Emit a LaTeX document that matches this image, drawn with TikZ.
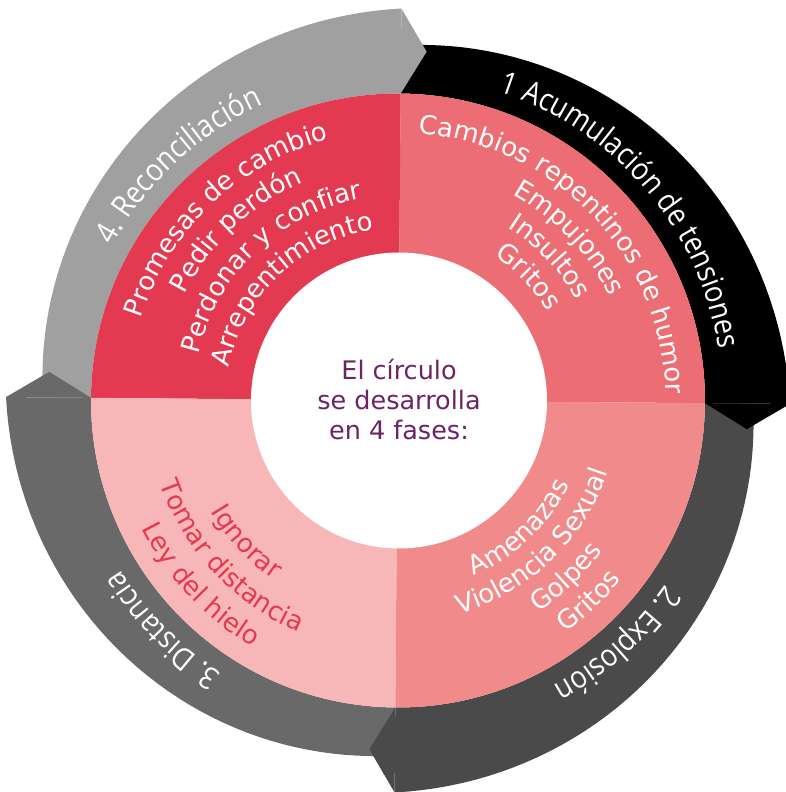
\documentclass[tikz,border=0pt]{standalone}
\usepackage{fontspec}
\setmainfont{DejaVu Sans}
\newfontfamily\ringfont[FakeStretch=0.88]{Open Sans}
\usetikzlibrary{decorations.text}
\definecolor{faseuno}{HTML}{EC6E74}
\definecolor{fasedos}{HTML}{F08A8B}
\definecolor{fasetres}{HTML}{F7B6B7}
\definecolor{fasecuatro}{HTML}{E33A51}
\definecolor{anillouno}{HTML}{000000}
\definecolor{anillodos}{HTML}{4A4A4A}
\definecolor{anillotres}{HTML}{696969}
\definecolor{anillocuatro}{HTML}{A0A0A0}
\definecolor{morado}{HTML}{6B2465}
\tikzset{
  rotulo/.style={decorate, decoration={text along path, text align=center,
      text={|\ringfont\fontsize{31}{33}\selectfont\color{white}|#1}}},
  linea/.style 2 args={decorate, decoration={text along path, text align=center,
      text={|\fontsize{26}{28}\selectfont\color{#1}|#2}}}
}
\begin{document}
\begin{tikzpicture}[x=1pt,y=1pt]
\useasboundingbox (-398,-391.5) rectangle (388,400.5);
% anillo exterior
\foreach \a/\c in {89.5/anillouno, -0.5/anillodos, -90.5/anillotres, 179.5/anillocuatro}
  \fill[\c] (\a:307) -- plot[domain=0:90, samples=46] ({\a-\x}:{355+37*\x/90})
    -- ({\a-90}:307) arc[start angle=\a-90, end angle=\a, radius=307] -- cycle;
\foreach \a/\c in {89.5/anillouno, -0.5/anillodos, -90.5/anillotres, 179.5/anillocuatro}
  \fill[\c] ({\a-90}:307) -- ({\a-94.2}:350) -- ({\a-90}:392) -- cycle;
% fases
\foreach \a/\c in {-0.5/faseuno, 89.5/fasecuatro, 179.5/fasetres, 269.5/fasedos}
  \fill[\c] (0,0) -- (\a:307) arc[start angle=\a, end angle=\a+90, radius=307] -- cycle;
\fill[white] (1,0) circle[radius=148];
\node[text=morado, align=center, font=\fontsize{25.5}{30}\selectfont] (centro) at (1,1)
  {El círculo\\se desarrolla\\en 4 fases:};
% rotulos del anillo
\path[rotulo={1 Acumulación de tensiones}] (90.5:325) arc[start angle=90.5, end angle=-9.5, radius=325];
\path[rotulo={2. Explosión}] (2:325) arc[start angle=2, end angle=-98, radius=325];
\path[rotulo={3. Distancia}] (274.3:325) arc[start angle=274.3, end angle=174.3, radius=325];
\path[rotulo={4. Reconciliación}] (183:325) arc[start angle=183, end angle=83, radius=325];
% textos de las fases
\path[linea={white}{Promesas de cambio}] (193.5:270) arc[start angle=193.5, end angle=73.5, radius=270];
\path[linea={white}{Pedir perdón}] (193.5:238) arc[start angle=193.5, end angle=73.5, radius=238];
\path[linea={white}{Perdonar y confiar}] (193.5:205) arc[start angle=193.5, end angle=73.5, radius=205];
\path[linea={white}{Arrepentimiento}] (193.5:172) arc[start angle=193.5, end angle=73.5, radius=172];
\path[linea={white}{Cambios repentinos de humor}] (103.5:268) arc[start angle=103.5, end angle=-16.5, radius=268];
\path[linea={white}{Empujones}] (103.5:236) arc[start angle=103.5, end angle=-16.5, radius=236];
\path[linea={white}{Insultos}] (103.5:205) arc[start angle=103.5, end angle=-16.5, radius=205];
\path[linea={white}{Gritos}] (103.5:174) arc[start angle=103.5, end angle=-16.5, radius=174];
\path[linea={white}{Amenazas}] (-106.4:191) arc[start angle=-106.4, end angle=13.6, radius=191];
\path[linea={white}{Violencia Sexual}] (-106.4:222) arc[start angle=-106.4, end angle=13.6, radius=222];
\path[linea={white}{Golpes}] (-106.4:254) arc[start angle=-106.4, end angle=13.6, radius=254];
\path[linea={white}{Gritos}] (-106.4:286) arc[start angle=-106.4, end angle=13.6, radius=286];
\path[linea={fasecuatro}{Ignorar}] (163:218) arc[start angle=163, end angle=283, radius=218];
\path[linea={fasecuatro}{Tomar distancia}] (163:252) arc[start angle=163, end angle=283, radius=252];
\path[linea={fasecuatro}{Ley del hielo}] (163:286) arc[start angle=163, end angle=283, radius=286];
\end{tikzpicture}
\end{document}
